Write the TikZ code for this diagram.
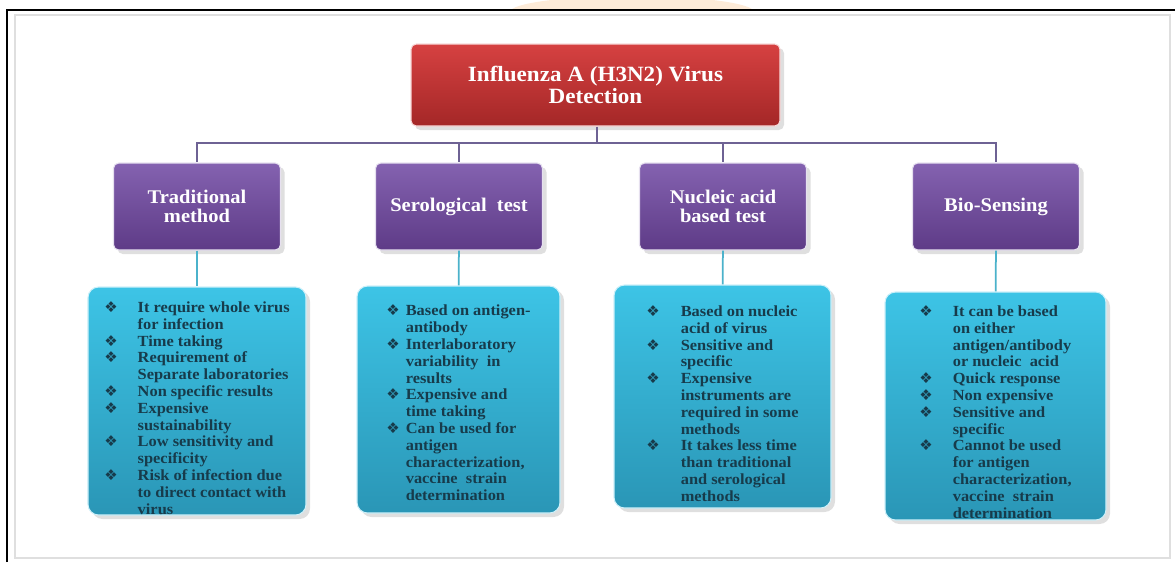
\documentclass[tikz,border=0pt]{standalone}
\usepackage{fontspec}
\setmainfont{Liberation Serif}[FakeStretch=1.06]
\newfontfamily\symfont{DejaVu Sans}
\usepackage{tikz}
\usetikzlibrary{positioning,shadows}
\definecolor{rootred}{HTML}{D64141}
\definecolor{rootdark}{HTML}{A42727}
\definecolor{methtop}{HTML}{8462B0}
\definecolor{methbot}{HTML}{5E3B87}
\definecolor{notetop}{HTML}{3DC4E6}
\definecolor{notebot}{HTML}{2A96B6}
\definecolor{notetext}{HTML}{173B4B}
\definecolor{treecol}{HTML}{6E6294}
\definecolor{notecol}{HTML}{4BB2CB}
\definecolor{wmark}{HTML}{FDEBD8}
\newcommand{\dingbul}{{\symfont\fontsize{8.5}{8.5}\selectfont ❖}}
\tikzset{
  rootbox/.style={draw=white!80!rootred, line width=0.6pt, rounded corners=3pt, top color=rootred, bottom color=rootdark, text=white, align=center, font=\bfseries\fontsize{12.4}{12.6}\selectfont, minimum width=73.8mm, minimum height=16.4mm, drop shadow={opacity=0.25}},
  methbox/.style={draw=white!80!methtop, line width=0.6pt, rounded corners=3pt, top color=methtop, bottom color=methbot, text=white, align=center, font=\bfseries\fontsize{11}{10.8}\selectfont, minimum width=33.4mm, minimum height=17.4mm, drop shadow={opacity=0.25}},
  notebox/.style={draw=white!75!notetop, line width=0.6pt, rounded corners=6pt, top color=notetop, bottom color=notebot, text=notetext, font=\bfseries\fontsize{8.8}{9.56}\selectfont, inner sep=0pt, drop shadow={opacity=0.25}},
  treeline/.style={draw=treecol, line width=0.35mm},
  noteline/.style={draw=notecol, line width=0.35mm}
}

\begin{document}
\begin{tikzpicture}[x=0.2mm, y=-0.2mm]
  \useasboundingbox (0,0) rectangle (1175,562);
  % page frame and watermark
  \begin{scope}
    \clip (0,0) rectangle (1175,10);
    \fill[wmark] (632,12) ellipse (122 and 16);
  \end{scope}
  \draw[gray!25, line width=0.5mm] (15,15) -- (15,558) -- (1170,558) -- (1170,15) -- cycle;
  \draw[black, line width=0.5mm] (7,562) -- (7,10) -- (1175,10);

  \node[rootbox] (root) at (595.5,85) {Influenza A (H3N2) Virus\\ Detection};

  \node[methbox] (trad) at (197,206.5) {Traditional\\ method};
  \node[methbox] (sero) at (459,206.5) {Serological\ \ test};
  \node[methbox] (nucl) at (723,206.5) {Nucleic acid\\ based test};
  \node[methbox] (bio)  at (996,206.5) {Bio-Sensing};

  \node[notebox, minimum width=43.6mm, minimum height=45.6mm] (tradnote) at (197,401) {%
    \raisebox{-1.8mm}[\height][\depth]{\begin{tabular}{@{}l@{\hspace{4mm}}l@{}}
      \dingbul & It require whole virus\\
               & for infection\\
      \dingbul & Time taking\\
      \dingbul & Requirement of\\
               & Separate laboratories\\
      \dingbul & Non specific results\\
      \dingbul & Expensive\\
               & sustainability\\
      \dingbul & Low sensitivity and\\
               & specificity\\
      \dingbul & Risk of infection due\\
               & to direct contact with\\
               & virus
    \end{tabular}}};
  \node[notebox, minimum width=40.6mm, minimum height=45.4mm] (seronote) at (458.5,399.5) {%
    \raisebox{-1.1mm}[\height][\depth]{\begin{tabular}{@{}l@{\hspace{1.2mm}}l@{}}
      \dingbul & Based on antigen-\\
               & antibody\\
      \dingbul & Interlaboratory\\
               & variability\ \ in\\
               & results\\
      \dingbul & Expensive and\\
               & time taking\\
      \dingbul & Can be used for\\
               & antigen\\
               & characterization,\\
               & vaccine\ \ strain\\
               & determination
    \end{tabular}}};
  \node[notebox, minimum width=43.4mm, minimum height=44.6mm] (nuclnote) at (722.5,396.5) {%
    \raisebox{-1.8mm}[\height][\depth]{\begin{tabular}{@{}l@{\hspace{4.2mm}}l@{}}
      \dingbul & Based on nucleic\\
               & acid of virus\\
      \dingbul & Sensitive and\\
               & specific\\
      \dingbul & Expensive\\
               & instruments are\\
               & required in some\\
               & methods\\
      \dingbul & It takes less time\\
               & than traditional\\
               & and serological\\
               & methods
    \end{tabular}}};
  \node[notebox, minimum width=44.2mm, minimum height=45.6mm] (bionote) at (995.5,406) {%
    \raisebox{-1.6mm}[\height][\depth]{\begin{tabular}{@{}l@{\hspace{4mm}}l@{}}
      \dingbul & It can be based\\
               & on either\\
               & antigen/antibody\\
               & or nucleic\ \ acid\\
      \dingbul & Quick response\\
      \dingbul & Non expensive\\
      \dingbul & Sensitive and\\
               & specific\\
      \dingbul & Cannot be used\\
               & for antigen\\
               & characterization,\\
               & vaccine\ \ strain\\
               & determination
    \end{tabular}}};

  % tree
  \coordinate (bus) at (597,143);
  \draw[treeline] (root.south -| bus) -- (bus);
  \draw[treeline] (bus) -| (trad.north);
  \draw[treeline] (bus) -| (sero.north);
  \draw[treeline] (bus) -| (nucl.north);
  \draw[treeline] (bus) -| (bio.north);

  \draw[noteline] (trad) -- (tradnote);
  \draw[noteline] (sero) -- (seronote);
  \draw[noteline] (nucl) -- (nuclnote);
  \draw[noteline] (bio) -- (bionote);
\end{tikzpicture}
\end{document}
